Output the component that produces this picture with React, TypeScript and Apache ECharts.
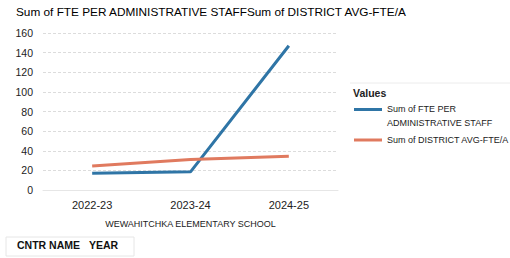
import React, { useEffect, useRef } from "react";
import * as echarts from "echarts";

const categories = ["2022-23", "2023-24", "2024-25"];
const fteSeries = [17, 18.5, 147];
const districtSeries = [24.5, 31, 34.5];
const seriesNames = ["Sum of FTE PER ADMINISTRATIVE STAFF", "Sum of DISTRICT AVG-FTE/A"];
const legendLabels = ["Sum of FTE PER\nADMINISTRATIVE STAFF", "Sum of DISTRICT AVG-FTE/A"];
const chartTitle = "Sum of FTE PER ADMINISTRATIVE STAFFSum of DISTRICT AVG-FTE/A";
const axisName = "WEWAHITCHKA ELEMENTARY SCHOOL";
const fieldButtons = ["CNTR NAME", "YEAR"];
const legendTitle = "Values";

const FONT = "'Liberation Sans', Arial, sans-serif";
const BLUE = "#2f75a6";
const ORANGE = "#e07a5f";

export default function App() {
  const ref = useRef<HTMLDivElement>(null);
  useEffect(() => {
    if (!ref.current) return;
    const chart = echarts.init(ref.current, undefined, { renderer: "svg" });
    chart.setOption({
      animation: false,
      backgroundColor: "#ffffff",
      textStyle: { fontFamily: FONT },
      title: {
        text: chartTitle,
        left: 16,
        top: 6,
        padding: 0,
        textStyle: { fontFamily: FONT, fontSize: 11.8, fontWeight: "normal", color: "#000" },
      },
      grid: { left: 43, right: 172, top: 33, bottom: 68 },
      xAxis: {
        type: "category",
        data: categories,
        boundaryGap: true,
        axisLine: { show: true, lineStyle: { color: "#e6e6e6" } },
        axisTick: { show: false },
        axisLabel: { color: "#222", fontSize: 11, margin: 9, fontFamily: FONT },
        name: axisName,
        nameLocation: "middle",
        nameGap: 29.5,
        nameTextStyle: { color: "#222", fontSize: 9, fontFamily: FONT },
      },
      yAxis: {
        type: "value",
        min: 0,
        max: 160,
        interval: 20,
        axisLine: { show: false },
        axisTick: { show: false },
        axisLabel: { color: "#222", fontSize: 10.5, margin: 10, fontFamily: FONT },
        splitLine: { lineStyle: { color: "#dcdcdc", type: [3, 2] } },
      },
      legend: [
        {
          orient: "vertical",
          left: 354,
          top: 101.5,
          padding: 0,
          data: [seriesNames[0]],
          icon: "path://M0,0H28V3H0Z M0,15",
          itemWidth: 28,
          itemHeight: 15,
          formatter: () => legendLabels[0],
          textStyle: { color: "#222", fontSize: 9, fontFamily: FONT, lineHeight: 14 },
        },
        {
          orient: "vertical",
          left: 354,
          top: 135.5,
          padding: 0,
          data: [seriesNames[1]],
          icon: "rect",
          itemWidth: 28,
          itemHeight: 3,
          formatter: () => legendLabels[1],
          textStyle: { color: "#222", fontSize: 9, fontFamily: FONT },
        },
      ],
      graphic: [
        {
          type: "line",
          shape: { x1: 350, y1: 83, x2: 510, y2: 83 },
          style: { stroke: "#ececec", lineWidth: 1 },
        },
        {
          type: "text",
          x: 353,
          y: 93,
          style: {
            text: legendTitle,
            fontFamily: FONT,
            fontSize: 10.5,
            fontWeight: "bold",
            fill: "#222",
            verticalAlign: "middle",
          },
        },
        {
          type: "rect",
          shape: { x: 6, y: 237, width: 128, height: 19 },
          style: { fill: "none", stroke: "#e6e6e6", lineWidth: 1 },
        },
        {
          type: "text",
          x: 17,
          y: 245,
          style: {
            text: fieldButtons[0],
            fontFamily: FONT,
            fontSize: 10.5,
            fontWeight: "bold",
            fill: "#111",
            verticalAlign: "middle",
          },
        },
        {
          type: "text",
          x: 89,
          y: 245,
          style: {
            text: fieldButtons[1],
            fontFamily: FONT,
            fontSize: 10.5,
            fontWeight: "bold",
            fill: "#111",
            verticalAlign: "middle",
          },
        },
      ],
      series: [
        {
          name: seriesNames[0],
          type: "line",
          data: fteSeries,
          symbol: "none",
          lineStyle: { color: BLUE, width: 3 },
          itemStyle: { color: BLUE },
        },
        {
          name: seriesNames[1],
          type: "line",
          data: districtSeries,
          symbol: "none",
          lineStyle: { color: ORANGE, width: 3 },
          itemStyle: { color: ORANGE },
        },
      ],
    });
    return () => chart.dispose();
  }, []);
  return <div ref={ref} style={{ width: 510, height: 258, position: "absolute", left: 0, top: 0 }} />;
}
